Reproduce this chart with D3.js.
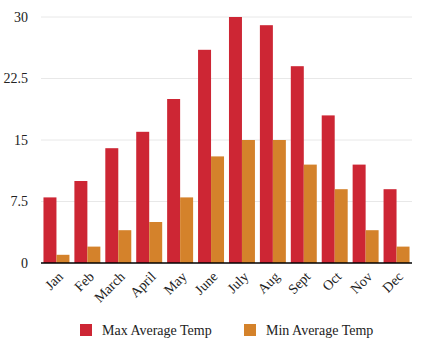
<!DOCTYPE html>
<html>
<head>
<meta charset="utf-8">
<script src="https://cdn.jsdelivr.net/npm/d3@7"></script>
<style>
  body { margin: 0; background: #fff; }
  text { font-family: "Liberation Serif", "Times New Roman", serif; fill: #222; }
</style>
</head>
<body>
<script>
var months = ["Jan", "Feb", "March", "April", "May", "June", "July", "Aug", "Sept", "Oct", "Nov", "Dec"];
var maxTemp = [8, 10, 14, 16, 20, 26, 30, 29, 24, 18, 12, 9];
var minTemp = [1, 2, 4, 5, 8, 13, 15, 15, 12, 9, 4, 2];
var seriesNames = ["Max Average Temp", "Min Average Temp"];
var yTicks = [0, 7.5, 15, 22.5, 30];

var colors = ["#cd2634", "#d4822b"];

var svgWidth = 421, svgHeight = 345;
var plot = { left: 41, right: 412, top: 17, bottom: 263 };

var svg = d3.select("body").append("svg")
  .attr("width", svgWidth)
  .attr("height", svgHeight);

var x = d3.scaleBand()
  .domain(months)
  .range([plot.left, plot.right])
  .paddingInner(0.16)
  .paddingOuter(0.08);

var x1 = d3.scaleBand()
  .domain([0, 1])
  .range([0, x.bandwidth()]);

var y = d3.scaleLinear()
  .domain([0, 30])
  .range([plot.bottom, plot.top]);

// grid lines
svg.append("g")
  .selectAll("line")
  .data(yTicks.slice(1))
  .enter().append("line")
  .attr("x1", plot.left)
  .attr("x2", plot.right)
  .attr("y1", function(d){ return y(d); })
  .attr("y2", function(d){ return y(d); })
  .attr("stroke", "#e8e8e8")
  .attr("stroke-width", 1);

// y labels
var yaxis = d3.axisLeft(y)
  .tickValues(yTicks)
  .tickFormat(function(d){ return String(d); })
  .tickSize(0)
  .tickPadding(13);
var yg = svg.append("g")
  .attr("transform", "translate(" + plot.left + ",0)")
  .call(yaxis);
yg.select(".domain").remove();
yg.selectAll("text").style("font-size", "14px").style("font-family", "Liberation Serif").attr("fill", "#222");

var data = months.map(function(m, i){ return { month: m, values: [maxTemp[i], minTemp[i]] }; });

var groups = svg.append("g")
  .selectAll("g")
  .data(data)
  .enter().append("g")
  .attr("transform", function(d){ return "translate(" + x(d.month) + ",0)"; });

groups.selectAll("rect")
  .data(function(d){ return d.values; })
  .enter().append("rect")
  .attr("x", function(d, i){ return x1(i); })
  .attr("y", function(d){ return y(d); })
  .attr("width", x1.bandwidth())
  .attr("height", function(d){ return y(0) - y(d); })
  .attr("fill", function(d, i){ return colors[i]; });

// x axis
var xaxis = d3.axisBottom(x).tickSize(0).tickPadding(0);
var xg = svg.append("g")
  .attr("transform", "translate(0," + plot.bottom + ")")
  .call(xaxis);
xg.select(".domain").attr("stroke", "#000").attr("stroke-width", 1.5)
  .attr("d", "M" + plot.left + ",0H" + plot.right);
xg.selectAll("text")
  .style("font-size", "14px")
  .style("font-family", "Liberation Serif")
  .attr("fill", "#222")
  .attr("text-anchor", "end")
  .attr("dy", "0.35em")
  .attr("transform", "translate(4,11) rotate(-45)");

// legend
var legendX = [80, 244];
var legend = svg.append("g")
  .selectAll("g")
  .data(seriesNames)
  .enter().append("g")
  .attr("transform", function(d, i){ return "translate(" + legendX[i] + ",324)"; });

legend.append("rect")
  .attr("width", 12)
  .attr("height", 12)
  .attr("fill", function(d, i){ return colors[i]; });

legend.append("text")
  .attr("x", 22)
  .attr("y", 11)
  .style("font-size", "14px")
  .text(function(d){ return d; });
</script>
</body>
</html>
